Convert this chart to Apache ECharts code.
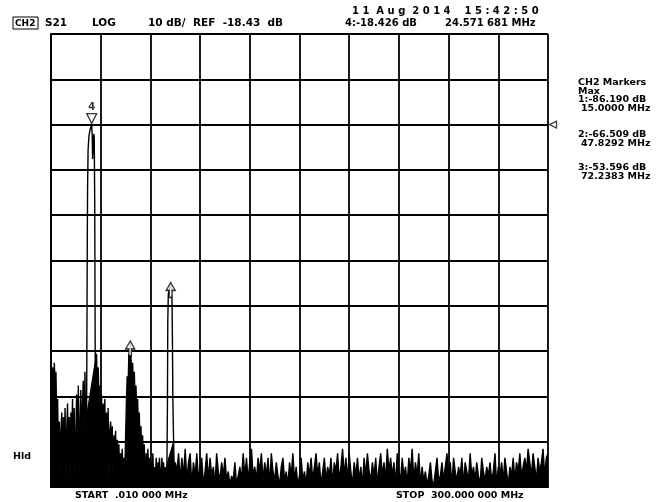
<!DOCTYPE html>
<html><head><meta charset="utf-8">
<script src="https://cdn.jsdelivr.net/npm/echarts@6/dist/echarts.min.js"></script>
<style>html,body{margin:0;padding:0;background:#fff}#c{width:660px;height:502px}</style>
</head><body><div id="c"></div>
<script>
// ---- instrument setup ----
const startMHz = 0.01, stopMHz = 300;
const refDB = -18.43, dbPerDiv = 10, divsAboveRef = 2, divsBelowRef = 8;
const xDivs = 10, yDivs = 10;

// ---- trace: detailed part (low frequencies, peaks) [MHz, dB] ----
const detailTrace = [
 [0.01,-74],[0.5,-78],[1,-72],[1.5,-80],[2,-71],[2.5,-76],[3,-73],[3.5,-85],[4,-79],[4.5,-92],
 [5,-84],[5.5,-97],[6,-86],[6.5,-82],[7,-95],[7.5,-83],[8,-90],[8.5,-81],[9,-98],[9.5,-86],
 [10,-80],[10.5,-93],[11,-83],[11.5,-97],[12,-82],[12.5,-88],[13,-79],[13.5,-94],[14,-81],[14.5,-97],
 [15,-86.19],[15.5,-78],[16,-90],[16.5,-76],[17,-96],[17.5,-84],[18,-77],[18.5,-93],[19,-80],[19.5,-75],
 [20,-88],[20.5,-73],[21,-90],[21.5,-82],[21.7,-65],[21.9,-45],[22.1,-32],[22.4,-24],[22.9,-21],[23.6,-19.5],
 [24.57,-18.43],[24.9,-21],[25.1,-26],[25.4,-24],[25.8,-20.5],[26.1,-21],[26.4,-35],[26.7,-70],[27,-74],[27.5,-69],
 [28,-77],[28.5,-72],[29,-80],[29.5,-76],[30,-84],[30.5,-78],[31,-90],[31.5,-80],[32,-85],[32.5,-79],
 [33,-93],[33.5,-82],[34,-88],[34.5,-81],[35,-97],[35.5,-86],[36,-84],[36.5,-92],[37,-85],[37.5,-98],
 [38,-87],[38.5,-90],[39,-86],[39.5,-96],[40,-88],[40.5,-93],[41,-89],[41.5,-98],[42,-91],[42.5,-95],
 [43,-90],[43.5,-97],[44,-92],[44.5,-96],[45,-88],[45.5,-80],[46,-74],[46.5,-77],[47,-69],[47.5,-71],
 [47.83,-66.51],[48.3,-70],[48.8,-75],[49.3,-71],[49.8,-78],[50.3,-73],[50.8,-80],[51.3,-76],[51.8,-84],[52.3,-79],
 [52.8,-86],[53.3,-82],[53.8,-90],[54.3,-85],[54.8,-92],[55.3,-87],[55.8,-94],[56.3,-89],[56.8,-96],[57.5,-91],
 [58,-95],[58.5,-90],[59,-97],[59.5,-92],[60,-98],[60.5,-93],[61,-96],[61.5,-91],[62,-98],[62.5,-94],
 [63,-97],[63.5,-92],[64,-98],[64.5,-93],[65,-96],[65.5,-92],[66,-98],[66.5,-95],[67,-92],[67.5,-97],
 [68,-93],[68.5,-98],[69,-94],[69.5,-97],[70,-93],[70.3,-80],[70.5,-62],[70.8,-56],[71.5,-54.5],[72.24,-53.6],
 [72.8,-55],[73.1,-58],[73.3,-66],[73.6,-80],[74,-88],[74.4,-95],[75,-93]
];

// ---- trace: noise floor part, 1 MHz sweep step from 76 MHz ----
const noiseStartMHz = 76, noiseStepMHz = 1;
const noiseDB = [
 -95,-91,-97,-92,-96,-90,-97,-93,-91,-98,
 -93,-96,-91,-97,-94,-92,-98,-95,-91,-97,
 -92,-96,-94,-98,-91,-95,-97,-93,-96,-92,
 -97,-95,-98,-96,-97,-93,-98,-96,-94,-97,
 -91,-96,-92,-97,-93,-90,-96,-94,-97,-92,
 -95,-91,-97,-93,-96,-92,-98,-91,-95,-97,
 -93,-96,-98,-94,-92,-97,-95,-98,-93,-96,
 -91,-97,-94,-98,-96,-92,-97,-95,-98,-93,
 -96,-92,-97,-94,-91,-96,-93,-98,-95,-92,
 -97,-94,-96,-92,-98,-93,-95,-91,-97,-94,
 -90,-96,-92,-97,-91,-95,-98,-93,-96,-92,
 -97,-94,-98,-92,-96,-91,-95,-97,-93,-96,
 -92,-98,-94,-91,-96,-93,-97,-90,-95,-92,
 -96,-93,-98,-91,-95,-97,-92,-96,-94,-98,
 -92,-95,-90,-97,-93,-96,-91,-98,-94,-97,
 -95,-98,-96,-93,-97,-98,-95,-92,-97,-96,
 -93,-97,-94,-91,-96,-93,-98,-92,-95,-97,
 -94,-96,-92,-98,-93,-95,-97,-91,-96,-94,
 -97,-93,-96,-98,-92,-95,-97,-94,-96,-93,
 -97,-95,-91,-98,-94,-96,-93,-97,-92,-95,
 -98,-94,-96,-92,-97,-93,-95,-91,-96,-94,
 -92,-95,-90,-93,-96,-91,-94,-97,-92,-95,
 -93,-90,-96,-92,-91
];

// sharp single-line peaks (drawn as outline only, not as dense noise)
const peakWindowsMHz = [[21.5, 26.7], [70, 74]];

// ---- markers ----
const markerIds  = [1, 2, 3, 4];
const markerFreq = [15.0000, 47.8292, 72.2383, 24.571681];
const markerDB   = [-86.190, -66.509, -53.596, -18.426];
const activeMarker = 4;

// ---- build data ----
const trace = detailTrace.slice();
noiseDB.forEach((v, i) => trace.push([noiseStartMHz + i * noiseStepMHz, v]));
const denseFill = trace.filter(p => !peakWindowsMHz.some(w => p[0] > w[0] && p[0] < w[1]));

const yMin = refDB - divsBelowRef * dbPerDiv;
const yMax = refDB + divsAboveRef * dbPerDiv;

const FONT = '"DejaVu Sans", Verdana, sans-serif';
const fmtDB = v => (v < 0 ? '-' : '') + Math.abs(v).toFixed(3) + ' dB';
const fmtMHz6 = f => { const s = f.toFixed(6); return s.slice(0, s.length - 3) + ' ' + s.slice(s.length - 3) + ' MHz'; };

const ai = markerIds.indexOf(activeMarker);
const arrowPath = 'path://M5,0L10,8L6.5,8L6.5,15L3.5,15L3.5,8L0,8Z';

function txt(x, y, text, size, weight) {
  return { type: 'text', x: x, y: y, z: 10,
    style: { text: text, font: (weight || 'bold') + ' ' + size + 'px ' + FONT, fill: '#000', verticalAlign: 'middle', align: 'left' } };
}

const graphics = [
  { type: 'rect', shape: { x: 13, y: 17, width: 25, height: 12 }, style: { fill: 'none', stroke: '#000', lineWidth: 1 } },
  txt(15, 23.5, 'CH2', 9),
  txt(45, 23, 'S21', 10.5),
  txt(92, 23, 'LOG', 10.5),
  txt(148, 23, dbPerDiv + ' dB/  REF  ' + refDB.toFixed(2) + '  dB', 10.5),
  txt(352, 11, '1 1  A u g  2 0 1 4    1 5 : 4 2 : 5 0', 10),
  txt(345, 23, activeMarker + ':' + fmtDB(markerDB[ai]), 10),
  txt(445, 23, fmtMHz6(markerFreq[ai]), 10),
  txt(578, 83, 'CH2 Markers', 9.5),
  txt(578, 91.5, 'Max', 9.5),
  txt(13, 457, 'Hld', 9.5),
  txt(75, 496, 'START  .010 000 MHz', 9.5),
  txt(396, 496, 'STOP  300.000 000 MHz', 9.5)
];
const panelY = [[100, 109], [135, 143.5], [168, 177]];
[0, 1, 2].forEach(i => {
  graphics.push(txt(578, panelY[i][0], markerIds[i] + ':' + fmtDB(markerDB[i]), 9.5));
  graphics.push(txt(581, panelY[i][1], markerFreq[i].toFixed(4) + ' MHz', 9.5));
});

const chart = echarts.init(document.getElementById('c'));
chart.setOption({
  animation: false,
  backgroundColor: '#fff',
  grid: { left: 51, top: 34, width: 497, height: 453 },
  xAxis: [
    { type: 'value', min: startMHz, max: stopMHz, show: false },
    { type: 'value', min: 0, max: xDivs, interval: 1, position: 'bottom',
      axisLine: { show: true, lineStyle: { color: '#000', width: 2 } },
      axisTick: { show: false }, axisLabel: { show: false },
      splitLine: { show: true, lineStyle: { color: '#000', width: 1.8 } } }
  ],
  yAxis: [
    { type: 'value', min: yMin, max: yMax, show: false },
    { type: 'value', min: 0, max: yDivs, interval: 1, position: 'left',
      axisLine: { show: true, lineStyle: { color: '#000', width: 2 } },
      axisTick: { show: false }, axisLabel: { show: false },
      splitLine: { show: true, lineStyle: { color: '#000', width: 1.8 } } }
  ],
  graphic: graphics,
  series: [
    { type: 'line', xAxisIndex: 0, yAxisIndex: 0, data: denseFill, showSymbol: false, symbol: 'none',
      lineStyle: { width: 0 }, areaStyle: { color: '#000', opacity: 1, origin: 'start' }, clip: true, z: 2, silent: true },
    { type: 'line', xAxisIndex: 0, yAxisIndex: 0, data: trace, showSymbol: false, symbol: 'none',
      lineStyle: { color: '#000', width: 1.4 }, clip: true, z: 3 },
    { type: 'scatter', xAxisIndex: 0, yAxisIndex: 0, clip: false, z: 5,
      data: [[markerFreq[ai], markerDB[ai]]],
      symbol: 'triangle', symbolRotate: 180, symbolSize: [10, 10], symbolOffset: [0, -6],
      itemStyle: { color: '#fff', borderColor: '#000', borderWidth: 1.3 },
      label: { show: true, position: 'top', distance: 1, formatter: String(activeMarker),
        color: '#000', fontSize: 10, fontWeight: 'bold', fontFamily: FONT } },
    { type: 'scatter', xAxisIndex: 0, yAxisIndex: 0, clip: false, z: 5,
      data: [1, 2].map(i => [markerFreq[i], markerDB[i]]),
      symbol: arrowPath, symbolSize: [9, 15], symbolOffset: [0, 6],
      itemStyle: { color: '#fff', borderColor: '#000', borderWidth: 1.3 } },
    { type: 'scatter', xAxisIndex: 0, yAxisIndex: 0, clip: false, z: 5,
      data: [[stopMHz, refDB]],
      symbol: 'triangle', symbolRotate: 90, symbolSize: [7, 7], symbolOffset: [5, 0],
      itemStyle: { color: '#fff', borderColor: '#000', borderWidth: 1.2 } }
  ]
});
</script></body></html>
